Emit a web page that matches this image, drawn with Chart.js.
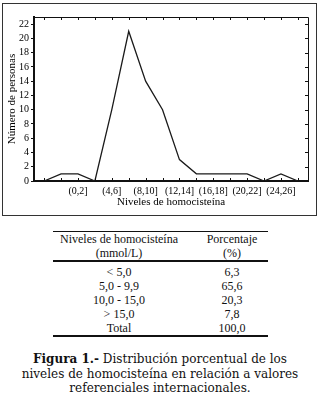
<!DOCTYPE html>
<html>
<head>
<meta charset="utf-8">
<script src="https://cdn.jsdelivr.net/npm/chart.js@4"></script>
<style>
  body { margin: 0; width: 320px; height: 400px; background: #fff; position: relative; overflow: hidden; }
  #wrap { position: absolute; left: 0; top: 0; width: 320px; height: 220px; }
  #box { position: absolute; left: 2px; top: 3px; width: 315px; height: 213px; border: 1px solid #333; box-sizing: border-box; pointer-events: none; }
  #tbl { position: absolute; left: 53px; top: 231px; width: 215px; table-layout: fixed; border-collapse: collapse; font-family: "Liberation Serif", serif; font-size: 12px; color: #111; border-top: 1px solid #111; border-bottom: 2px solid #111; }
  #tbl th, #tbl td { padding: 0; text-align: center; font-weight: normal; line-height: 14px; white-space: nowrap; }
  #tbl thead tr:last-child th { border-bottom: 2px solid #111; }
  #tbl tbody tr:first-child td { padding-top: 3px; }
  #tbl .c2 { padding-left: 11px; }
  #cap { position: absolute; left: 0; top: 352px; width: 320px; text-align: center; font-family: "DejaVu Serif", serif; font-size: 12px; line-height: 14.5px; color: #111; }
</style>
</head>
<body>
<div id="wrap"><canvas id="chart"></canvas></div>
<div id="box"></div>
<table id="tbl">
  <colgroup><col style="width:132px"><col style="width:83px"></colgroup>
  <thead>
    <tr><th>Niveles de homocisteína</th><th class="c2">Porcentaje</th></tr>
    <tr><th>(mmol/L)</th><th class="c2">(%)</th></tr>
  </thead>
  <tbody id="tbody"></tbody>
</table>
<div id="cap"><b>Figura 1.-</b> Distribución porcentual de los<br>niveles de homocisteína en relación a valores<br>referenciales internacionales.</div>
<script>
// bins of 2 mmol/L, one point per bin
const bins = ['(-4,-2]', '(-2,0]', '(0,2]', '(2,4]', '(4,6]', '(6,8]', '(8,10]', '(10,12]',
  '(12,14]', '(14,16]', '(16,18]', '(18,20]', '(20,22]', '(22,24]', '(24,26]', '(26,28]'];
const counts = [0, 1, 1, 0, 10, 21, 14, 10, 3, 1, 1, 1, 1, 0, 1, 0];
const shownLabels = ['(0,2]', '(4,6]', '(8,10]', '(12,14]', '(16,18]', '(20,22]', '(24,26]'];
const yTicks = [0, 2, 4, 6, 8, 10, 12, 14, 16, 18, 20, 22];

// table
const levels = ['< 5,0', '5,0 - 9,9', '10,0 - 15,0', '> 15,0', 'Total'];
const percents = ['6,3', '65,6', '20,3', '7,8', '100,0'];

const tbody = document.getElementById('tbody');
levels.forEach((lv, i) => {
  const tr = document.createElement('tr');
  tr.innerHTML = `<td>${lv}</td><td class="c2">${percents[i]}</td>`;
  tbody.appendChild(tr);
});

// frame: top/right lines and inward ticks
const framePlugin = {
  id: 'frame',
  afterDraw(chart) {
    const { ctx, chartArea: a, scales: { x, y } } = chart;
    ctx.save();
    ctx.strokeStyle = '#111';
    ctx.lineWidth = 1;
    ctx.beginPath();
    ctx.moveTo(a.left, a.top + 0.5);
    ctx.lineTo(a.right + 0.5, a.top + 0.5);
    ctx.lineTo(a.right + 0.5, a.bottom);
    bins.forEach((b, i) => {
      const px = Math.round(x.getPixelForValue(i)) + 0.5;
      ctx.moveTo(px, a.top);
      ctx.lineTo(px, a.top + 3);
      ctx.moveTo(px, a.bottom);
      ctx.lineTo(px, a.bottom - 3);
    });
    yTicks.forEach(v => {
      const py = Math.round(y.getPixelForValue(v)) + 0.5;
      ctx.moveTo(a.right, py);
      ctx.lineTo(a.right - 3, py);
    });
    ctx.stroke();
    ctx.restore();
  }
};

const serif = { family: '"Liberation Serif", serif', size: 10 };

new Chart(document.getElementById('chart'), {
  type: 'line',
  data: {
    datasets: [{
      data: counts.map((c, i) => ({ x: i, y: c })),
      borderColor: '#1a1a1a',
      borderWidth: 1.3,
      pointRadius: 0,
      tension: 0,
      fill: false
    }]
  },
  options: {
    responsive: true,
    maintainAspectRatio: false,
    animation: false,
    layout: { padding: { top: 17, right: 12, left: 0, bottom: 0 } },
    plugins: { legend: { display: false }, tooltip: { enabled: false } },
    scales: {
      x: {
        type: 'linear',
        min: -0.6,
        max: 15.6,
        afterBuildTicks: s => { s.ticks = bins.map((b, i) => ({ value: i })); },
        afterFit: s => { s.height = 39; },
        grid: { display: false, drawTicks: false },
        border: { display: true, color: '#111', width: 2 },
        ticks: {
          autoSkip: false,
          maxRotation: 0,
          padding: 4,
          color: '#000',
          font: serif,
          callback: v => shownLabels.includes(bins[v]) ? bins[v] : ''
        },
        title: {
          display: true,
          text: 'Niveles de homocisteína',
          color: '#000',
          font: { family: '"Liberation Serif", serif', size: 11 },
          padding: { top: 0, bottom: 11 }
        }
      },
      y: {
        min: 0,
        max: 23,
        afterBuildTicks: s => { s.ticks = yTicks.map(v => ({ value: v })); },
        afterFit: s => { s.width = 34; },
        grid: { drawOnChartArea: false, tickLength: 3, color: '#111' },
        border: { display: true, color: '#111', width: 2 },
        ticks: {
          autoSkip: false,
          padding: 2,
          color: '#000',
          font: serif
        },
        title: {
          display: true,
          text: 'Número de personas',
          color: '#000',
          font: { family: '"Liberation Serif", serif', size: 11 },
          padding: { top: 6, bottom: 0 }
        }
      }
    }
  },
  plugins: [framePlugin]
});
</script>
</body>
</html>
